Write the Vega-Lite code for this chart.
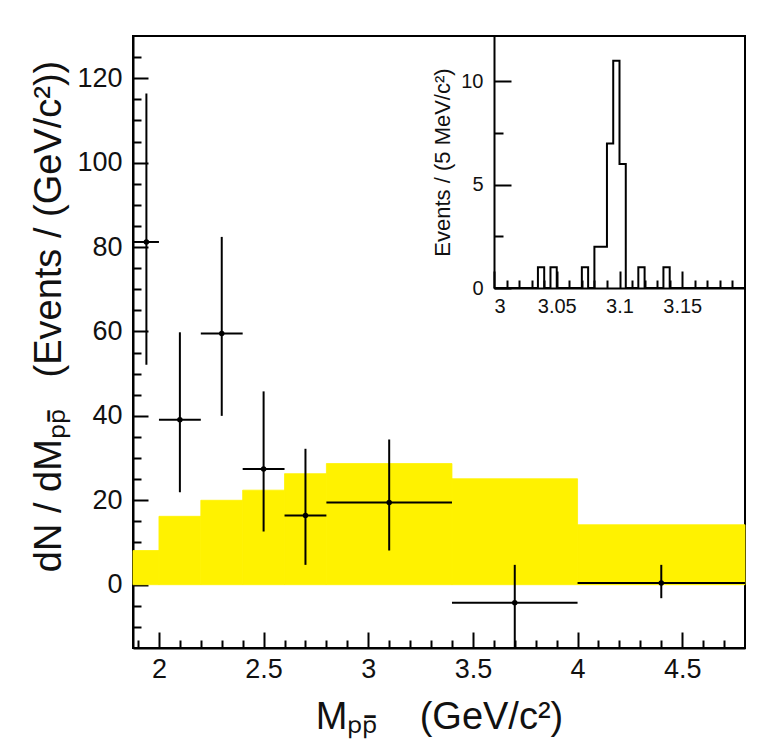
{
  "$schema": "https://vega.github.io/schema/vega-lite/v6.json",
  "width": 612,
  "height": 612,
  "autosize": {"type": "none"},
  "padding": {"left": 133, "top": 36, "right": 23, "bottom": 103},
  "background": "white",
  "config": {
    "font": "Liberation Sans",
    "view": {"stroke": "#000", "strokeWidth": 2},
    "axis": {
      "labelFont": "Liberation Sans",
      "titleFont": "Liberation Sans",
      "labelColor": "#111",
      "titleColor": "#111",
      "tickColor": "#000",
      "tickWidth": 2,
      "domain": false,
      "grid": false,
      "titleFontWeight": "normal",
      "zindex": 1
    }
  },
  "datasets": {
    "bands": [
      {"lo": 1.876, "hi": 2.0, "top": 8.1},
      {"lo": 2.0, "hi": 2.2, "top": 16.2},
      {"lo": 2.2, "hi": 2.4, "top": 20.0},
      {"lo": 2.4, "hi": 2.6, "top": 22.4},
      {"lo": 2.6, "hi": 2.8, "top": 26.3},
      {"lo": 2.8, "hi": 3.4, "top": 28.7},
      {"lo": 3.4, "hi": 4.0, "top": 25.1},
      {"lo": 4.0, "hi": 4.8, "top": 14.2}
    ],
    "points": [
      {"x": 1.94, "xlo": 1.876, "xhi": 2.0, "y": 81.2, "ylo": 52.1, "yhi": 116.4},
      {"x": 2.1, "xlo": 2.0, "xhi": 2.2, "y": 39.1, "ylo": 21.9, "yhi": 59.8},
      {"x": 2.3, "xlo": 2.2, "xhi": 2.4, "y": 59.5, "ylo": 40.0, "yhi": 82.4},
      {"x": 2.5, "xlo": 2.4, "xhi": 2.6, "y": 27.4, "ylo": 12.6, "yhi": 45.8},
      {"x": 2.7, "xlo": 2.6, "xhi": 2.8, "y": 16.4, "ylo": 4.7, "yhi": 32.2},
      {"x": 3.1, "xlo": 2.8, "xhi": 3.4, "y": 19.5, "ylo": 8.1, "yhi": 34.4},
      {"x": 3.7, "xlo": 3.4, "xhi": 4.0, "y": -4.3, "ylo": -15, "yhi": 4.7},
      {"x": 4.4, "xlo": 4.0, "xhi": 4.8, "y": 0.4, "ylo": -3.2, "yhi": 4.7}
    ],
    "hist": [
      {"m": 3.000, "n": 0}, {"m": 3.005, "n": 0}, {"m": 3.010, "n": 0}, {"m": 3.015, "n": 0},
      {"m": 3.020, "n": 0}, {"m": 3.025, "n": 0}, {"m": 3.030, "n": 0}, {"m": 3.035, "n": 1},
      {"m": 3.040, "n": 0}, {"m": 3.045, "n": 1}, {"m": 3.050, "n": 0}, {"m": 3.055, "n": 0},
      {"m": 3.060, "n": 0}, {"m": 3.065, "n": 0}, {"m": 3.070, "n": 1}, {"m": 3.075, "n": 0},
      {"m": 3.080, "n": 2}, {"m": 3.085, "n": 2}, {"m": 3.090, "n": 7}, {"m": 3.095, "n": 11},
      {"m": 3.100, "n": 6}, {"m": 3.105, "n": 0}, {"m": 3.110, "n": 0}, {"m": 3.115, "n": 1},
      {"m": 3.120, "n": 0}, {"m": 3.125, "n": 0}, {"m": 3.130, "n": 0}, {"m": 3.135, "n": 1},
      {"m": 3.140, "n": 0}, {"m": 3.145, "n": 0}, {"m": 3.150, "n": 0}, {"m": 3.155, "n": 0},
      {"m": 3.160, "n": 0}, {"m": 3.165, "n": 0}, {"m": 3.170, "n": 0}, {"m": 3.175, "n": 0},
      {"m": 3.180, "n": 0}, {"m": 3.185, "n": 0}, {"m": 3.190, "n": 0}, {"m": 3.195, "n": 0},
      {"m": 3.200, "n": 0}
    ]
  },
  "layer": [
    {
      "layer": [
        {
          "data": {"name": "bands"},
          "mark": {"type": "rect", "color": "#fff200", "stroke": "#fff200", "strokeWidth": 0.8},
          "encoding": {
            "x": {
              "field": "lo", "type": "quantitative",
              "scale": {"domain": [1.876, 4.8], "nice": false, "zero": false},
              "axis": {
                "orient": "bottom",
                "values": [2, 2.5, 3, 3.5, 4, 4.5],
                "format": "~g",
                "title": "M\u209a\u209a\u0304\u00a0\u00a0\u00a0\u00a0(GeV/c\u00b2)",
                "tickSize": -16,
                "labelFontSize": 27,
                "titleFontSize": 38,
                "labelPadding": 24,
                "titlePadding": 16,
                "domain": true,
                "domainColor": "#000",
                "domainWidth": 2
              }
            },
            "x2": {"field": "hi"},
            "y": {
              "field": "top", "type": "quantitative",
              "scale": {"domain": [-15, 130], "nice": false, "zero": false},
              "axis": {
                "orient": "left",
                "values": [0, 20, 40, 60, 80, 100, 120],
                "title": "dN / dM\u209a\u209a\u0304\u00a0\u00a0\u00a0(Events / (GeV/c\u00b2))",
                "tickSize": -15,
                "labelFontSize": 27,
                "titleFontSize": 38,
                "titleY": 280,
                "labelPadding": 26,
                "titlePadding": 8,
                "domain": true,
                "domainColor": "#000",
                "domainWidth": 2
              }
            },
            "y2": {"datum": 0}
          }
        },
        {
          "data": {"name": "points"},
          "mark": {"type": "rule", "color": "#000", "strokeWidth": 2},
          "encoding": {
            "x": {
              "field": "xlo", "type": "quantitative",
              "axis": {
                "orient": "bottom",
                "values": [1.9, 2.1, 2.2, 2.3, 2.4, 2.6, 2.7, 2.8, 2.9, 3.1, 3.2, 3.3, 3.4, 3.6, 3.7, 3.8, 3.9, 4.1, 4.2, 4.3, 4.4, 4.6, 4.7],
                "labels": false, "title": null, "tickSize": -8
              }
            },
            "x2": {"field": "xhi"},
            "y": {
              "field": "y", "type": "quantitative",
              "axis": {
                "orient": "left",
                "values": [-10, -5, 5, 10, 15, 25, 30, 35, 45, 50, 55, 65, 70, 75, 85, 90, 95, 105, 110, 115, 125],
                "labels": false, "title": null, "tickSize": -8
              }
            }
          }
        },
        {
          "data": {"name": "points"},
          "mark": {"type": "rule", "color": "#000", "strokeWidth": 2},
          "encoding": {
            "x": {"field": "x", "type": "quantitative", "axis": null},
            "y": {"field": "ylo", "type": "quantitative", "axis": null},
            "y2": {"field": "yhi"}
          }
        },
        {
          "data": {"name": "points"},
          "mark": {"type": "point", "filled": true, "shape": "circle", "color": "#000", "size": 30, "opacity": 1},
          "encoding": {
            "x": {"field": "x", "type": "quantitative", "axis": null},
            "y": {"field": "y", "type": "quantitative", "axis": null}
          }
        }
      ],
      "resolve": {"axis": {"x": "independent", "y": "independent"}}
    },
    {
      "layer": [
        {
          "data": {"name": "hist"},
          "mark": {"type": "line", "interpolate": "step-after", "color": "#000", "strokeWidth": 2},
          "encoding": {
            "x": {
              "field": "m", "type": "quantitative",
              "scale": {"domain": [3.0, 3.2], "range": [361, 612], "nice": false, "zero": false},
              "axis": {
                "orient": "bottom",
                "offset": -360,
                "values": [3, 3.05, 3.1, 3.15],
                "format": "~g",
                "title": null,
                "tickSize": -17,
                "labelFontSize": 20,
                "labelPadding": 25,
                "domain": true,
                "domainColor": "#000",
                "domainWidth": 2
              }
            },
            "y": {
              "field": "n", "type": "quantitative",
              "scale": {"domain": [0, 12.2], "range": [252, 0], "nice": false, "zero": false},
              "axis": {
                "orient": "left",
                "offset": -361,
                "values": [0, 5, 10],
                "title": "Events / (5 MeV/c\u00b2)",
                "titleFontSize": 22,
                "titlePadding": 6,
                "tickSize": -17,
                "labelFontSize": 20,
                "labelPadding": 28,
                "domain": true,
                "domainColor": "#000",
                "domainWidth": 2
              }
            }
          }
        },
        {
          "data": {"name": "hist"},
          "mark": {"type": "point", "opacity": 0},
          "encoding": {
            "x": {
              "field": "m", "type": "quantitative",
              "axis": {
                "orient": "bottom",
                "offset": -360,
                "values": [3.01, 3.02, 3.03, 3.04, 3.06, 3.07, 3.08, 3.09, 3.11, 3.12, 3.13, 3.14, 3.16, 3.17, 3.18, 3.19],
                "labels": false, "title": null, "tickSize": -8
              }
            },
            "y": {
              "field": "n", "type": "quantitative",
              "axis": {
                "orient": "left",
                "offset": -361,
                "values": [2.5, 7.5],
                "labels": false, "title": null, "tickSize": -9
              }
            }
          }
        }
      ],
      "resolve": {"axis": {"x": "independent", "y": "independent"}}
    }
  ],
  "resolve": {
    "scale": {"x": "independent", "y": "independent"},
    "axis": {"x": "independent", "y": "independent"}
  }
}
